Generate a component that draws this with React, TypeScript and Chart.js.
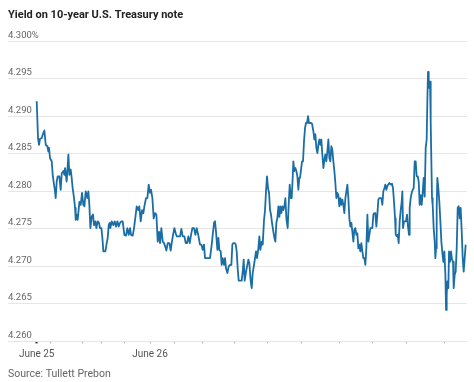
import React, { useEffect, useRef } from 'react';
import { Chart, registerables } from 'chart.js';
Chart.register(...registerables);

const title = 'Yield on 10-year U.S. Treasury note';
const source = 'Source: Tullett Prebon';

// hours since start of June 25
const hours = [
  0.00, 0.28, 0.49, 0.71, 1.06, 1.41, 1.62, 1.91, 2.26, 2.47, 2.61, 2.82, 3.18, 3.39, 3.67, 3.88, 4.02, 4.24, 4.45, 4.80,
  5.08, 5.30, 5.65, 5.86, 6.00, 6.35, 6.71, 6.92, 7.20, 7.41, 7.62, 7.91, 8.12, 8.26, 8.47, 8.68, 9.04, 9.32, 9.60, 9.88,
  10.10, 10.38, 10.73, 10.94, 11.15, 11.37, 11.65, 11.93, 12.14, 12.43, 12.64, 12.92, 13.20, 13.41, 13.70, 13.91, 14.12, 14.54, 14.83, 15.04,
  15.25, 15.46, 15.60, 15.89, 16.24, 16.52, 16.80, 17.09, 17.37, 17.65, 17.93, 18.21,
  18.57, 18.92, 19.20, 19.49, 19.77, 19.98, 20.33, 20.62, 20.83, 21.18, 21.53, 21.74, 22.03, 22.31, 22.59, 22.80, 23.16, 23.44,
  23.72, 24.00, 24.22, 24.50, 24.78, 25.06, 25.35, 25.63, 25.91, 26.12, 26.40, 26.69, 26.97, 27.25, 27.46, 27.75, 28.10, 28.38,
  28.59, 28.88, 29.16, 29.44, 29.65, 30.01, 30.36, 30.64, 30.92, 31.28, 31.56, 31.84, 32.12, 32.41, 32.69, 32.97, 33.32, 33.61,
  33.89, 34.24, 34.59, 34.88, 35.16, 35.44, 35.65, 36.01, 36.43, 36.71,
  37.07, 37.28, 37.56, 37.77, 37.98, 38.27, 38.48, 38.69, 38.97, 39.18, 39.39, 39.68, 39.89, 40.10, 40.38, 40.67, 40.95, 41.23,
  41.44, 41.65, 41.94, 42.15, 42.36, 42.57, 42.78, 43.07, 43.42, 43.63, 43.84, 44.05, 44.34, 44.62, 44.83, 45.04, 45.33, 45.54,
  45.75, 46.03, 46.24, 46.45, 46.67, 46.95, 47.16, 47.37, 47.66, 47.87, 48.15, 48.36, 48.57, 48.78, 49.00, 49.21, 49.42, 49.63,
  49.84, 50.13, 50.34, 50.55, 50.76, 50.97, 51.19, 51.40, 51.61, 51.82, 52.03, 52.24, 52.46, 52.67, 52.88, 53.16, 53.37, 53.59,
  53.80, 54.01, 54.22, 54.36, 54.57, 54.79, 55.00, 55.21, 55.42, 55.63,
  55.77, 55.99, 56.20, 56.41, 56.62, 56.83, 57.04, 57.26, 57.47, 57.68, 57.89, 58.10, 58.32, 58.60, 58.81, 59.02, 59.23, 59.45,
  59.66, 59.87, 60.08, 60.29, 60.50, 60.72, 60.93, 61.14, 61.35, 61.56, 61.78, 61.99, 62.20, 62.41, 62.62, 62.83, 63.05, 63.26,
  63.47, 63.68, 63.89, 64.10, 64.32, 64.53, 64.74, 64.95, 65.16, 65.38, 65.59, 65.80, 66.01, 66.22, 66.43, 66.65, 66.86, 67.07,
  67.28, 67.49, 67.71, 67.92, 68.13, 68.34, 68.55, 68.76, 68.98, 69.19, 69.40, 69.61, 69.82, 70.04, 70.25, 70.46, 70.67, 70.88,
  71.09, 71.31, 71.52, 71.73, 71.94, 72.15, 72.37, 72.58, 72.79, 73.00, 73.21, 73.42, 73.64, 73.85, 74.06, 74.27, 74.48, 74.69,
  74.84, 75.05, 75.26, 75.47, 75.68, 75.90, 76.04, 76.25, 76.46, 76.67, 76.88, 77.10, 77.31, 77.45, 77.59, 77.80, 78.01, 78.22,
  78.44, 78.65, 78.86, 79.00, 79.21, 79.43, 79.64, 79.85, 80.06, 80.27, 80.48, 80.70, 80.91, 81.12, 81.33, 81.54, 81.75, 81.97,
  82.18, 82.39, 82.60, 82.74, 82.88, 83.03, 83.17, 83.31, 83.45, 83.59, 83.73, 83.87, 84.08, 84.30, 84.44, 84.58, 84.72, 84.86,
  85.07, 85.28, 85.50, 85.71, 85.92, 86.13, 86.34, 86.56, 86.70, 86.84, 86.98, 87.19, 87.33, 87.54, 87.76, 87.97, 88.18, 88.32,
  88.53, 88.74, 88.96, 89.17, 89.38, 89.59, 89.80, 90.02, 90.23, 90.44, 90.65, 90.86,
];

const yields = [
  4.2920, 4.2871, 4.2862, 4.2870, 4.2871, 4.2878, 4.2881, 4.2862, 4.2860, 4.2853, 4.2858, 4.2844, 4.2840, 4.2822, 4.2809, 4.2800, 4.2791, 4.2813, 4.2820, 4.2820,
  4.2802, 4.2824, 4.2827, 4.2822, 4.2831, 4.2813, 4.2849, 4.2822, 4.2829, 4.2818, 4.2804, 4.2791, 4.2778, 4.2762, 4.2769, 4.2762, 4.2786, 4.2782, 4.2798, 4.2782,
  4.2780, 4.2800, 4.2791, 4.2800, 4.2782, 4.2751, 4.2766, 4.2769, 4.2755, 4.2760, 4.2751, 4.2760, 4.2758, 4.2751, 4.2751, 4.2738, 4.2720, 4.2720, 4.2731, 4.2738,
  4.2755, 4.2758, 4.2751, 4.2760, 4.2755, 4.2760, 4.2753, 4.2760, 4.2753, 4.2758, 4.2760, 4.2760,
  4.2742, 4.2741, 4.2751, 4.2742, 4.2751, 4.2742, 4.2741, 4.2751, 4.2762, 4.2780, 4.2775, 4.2780, 4.2760, 4.2775, 4.2771, 4.2780, 4.2791, 4.2791,
  4.2809, 4.2798, 4.2802, 4.2791, 4.2764, 4.2771, 4.2769, 4.2733, 4.2746, 4.2731, 4.2751, 4.2733, 4.2731, 4.2726, 4.2721, 4.2731, 4.2731, 4.2721,
  4.2731, 4.2742, 4.2751, 4.2744, 4.2740, 4.2740, 4.2740, 4.2750, 4.2740, 4.2740, 4.2731, 4.2731, 4.2740, 4.2731, 4.2742, 4.2751, 4.2751, 4.2742,
  4.2751, 4.2741, 4.2729, 4.2729, 4.2722, 4.2729, 4.2711, 4.2711, 4.2711, 4.2711,
  4.2729, 4.2742, 4.2758, 4.2760, 4.2746, 4.2722, 4.2738, 4.2722, 4.2720, 4.2702, 4.2711, 4.2702, 4.2711, 4.2697, 4.2691, 4.2700, 4.2702, 4.2702,
  4.2729, 4.2731, 4.2731, 4.2729, 4.2720, 4.2697, 4.2681, 4.2681, 4.2681, 4.2693, 4.2709, 4.2681, 4.2693, 4.2702, 4.2709, 4.2704, 4.2680, 4.2671,
  4.2691, 4.2702, 4.2711, 4.2720, 4.2711, 4.2724, 4.2740, 4.2722, 4.2733, 4.2729, 4.2762, 4.2775, 4.2800, 4.2820, 4.2804, 4.2798, 4.2775, 4.2769,
  4.2758, 4.2746, 4.2738, 4.2733, 4.2758, 4.2764, 4.2780, 4.2766, 4.2780, 4.2771, 4.2780, 4.2775, 4.2780, 4.2791, 4.2764, 4.2751, 4.2782, 4.2809,
  4.2791, 4.2791, 4.2818, 4.2840, 4.2827, 4.2831, 4.2827, 4.2820, 4.2802, 4.2818,
  4.2818, 4.2829, 4.2840, 4.2840, 4.2867, 4.2884, 4.2891, 4.2891, 4.2900, 4.2891, 4.2891, 4.2891, 4.2890, 4.2880, 4.2869, 4.2876, 4.2858, 4.2851,
  4.2862, 4.2869, 4.2862, 4.2869, 4.2849, 4.2831, 4.2842, 4.2849, 4.2840, 4.2853, 4.2869, 4.2844, 4.2840, 4.2860, 4.2855, 4.2840, 4.2827, 4.2811,
  4.2791, 4.2798, 4.2795, 4.2780, 4.2791, 4.2782, 4.2789, 4.2782, 4.2771, 4.2791, 4.2800, 4.2809, 4.2791, 4.2764, 4.2753, 4.2758, 4.2746, 4.2733,
  4.2749, 4.2751, 4.2742, 4.2744, 4.2724, 4.2729, 4.2720, 4.2731, 4.2720, 4.2711, 4.2711, 4.2702, 4.2724, 4.2769, 4.2733, 4.2742, 4.2751, 4.2751,
  4.2751, 4.2769, 4.2771, 4.2771, 4.2753, 4.2769, 4.2789, 4.2791, 4.2791, 4.2791, 4.2782, 4.2800, 4.2804, 4.2809, 4.2802, 4.2807, 4.2809, 4.2811,
  4.2810, 4.2809, 4.2810, 4.2804, 4.2786, 4.2764, 4.2742, 4.2740, 4.2742, 4.2731, 4.2760, 4.2775, 4.2786, 4.2800, 4.2751, 4.2760, 4.2760, 4.2760,
  4.2769, 4.2753, 4.2742, 4.2778, 4.2791, 4.2798, 4.2802, 4.2804, 4.2840, 4.2840, 4.2820, 4.2820, 4.2813, 4.2782, 4.2795, 4.2782, 4.2798, 4.2818,
  4.2793, 4.2858, 4.2869, 4.2920, 4.2959, 4.2938, 4.2946, 4.2946, 4.2893, 4.2840, 4.2791, 4.2782, 4.2751, 4.2733, 4.2711, 4.2724, 4.2778, 4.2818,
  4.2804, 4.2786, 4.2760, 4.2733, 4.2718, 4.2706, 4.2720, 4.2689, 4.2642, 4.2662, 4.2680, 4.2671, 4.2720, 4.2706, 4.2720, 4.2709, 4.2706, 4.2671,
  4.2689, 4.2693, 4.2724, 4.2778, 4.2780, 4.2764, 4.2778, 4.2746, 4.2711, 4.2693, 4.2711, 4.2729,
];

const yTicks = [4.26, 4.265, 4.27, 4.275, 4.28, 4.285, 4.29, 4.295, 4.3];
const yTickLabels = ['4.260', '4.265', '4.270', '4.275', '4.280', '4.285', '4.290', '4.295', '4.300%'];
const xTickHours = [0, 2.97, 9.74, 13.77, 18.7, 24, 29.29, 35.07, 42.0, 48.84, 56.13, 64.24, 71.16, 78.37, 86.48];
const xTickLabels = ['June 25', '', '', '', '', 'June 26', '', '', '', '', '', '', '', '', ''];

const FONT = "Roboto, sans-serif";

export default function App() {
  const ref = useRef<HTMLCanvasElement>(null);
  useEffect(() => {
    document.body.style.margin = '0';
    const chart = new Chart(ref.current!, {
      type: 'line',
      data: {
        datasets: [{
          data: hours.map((h, i) => ({ x: h, y: yields[i] })),
          borderColor: '#1b6ea5',
          borderWidth: 1.8,
          pointRadius: 0,
          tension: 0,
          fill: false,
          borderJoinStyle: 'round',
        }],
      },
      options: {
        animation: false,
        responsive: false,
        layout: { padding: { left: 8, right: 7, top: 0, bottom: 0 } },
        plugins: {
          legend: { display: false },
          tooltip: { enabled: false },
          title: {
            display: true, text: title, align: 'start', color: '#222',
            font: { family: FONT, size: 11, weight: 'bold' },
            padding: { top: 9, bottom: 19 },
          },
          subtitle: {
            display: true, position: 'bottom', text: source, align: 'start', color: '#666',
            font: { family: FONT, size: 10.5 },
            padding: { top: 3, bottom: 1 },
          },
        },
        scales: {
          x: {
            type: 'linear', min: -6.08, max: 91.14,
            afterBuildTicks: (s: any) => { s.ticks = xTickHours.map((v) => ({ value: v })); },
            ticks: {
              autoSkip: false, maxRotation: 0, padding: 5, color: '#555',
              font: { family: FONT, size: 10 },
              callback: (_v: any, i: number) => xTickLabels[i],
            },
            grid: {
              drawOnChartArea: false, drawTicks: true, tickLength: 2,
              tickColor: (c: any) => (c.index === 0 ? '#222' : '#aaa'),
              tickWidth: (c: any) => (c.index === 0 ? 2 : 1),
            },
            border: { display: false },
          },
          y: {
            min: 4.26, max: 4.3,
            afterBuildTicks: (s: any) => { s.ticks = yTicks.map((v) => ({ value: v })); },
            ticks: {
              mirror: true, padding: 0, labelOffset: -6, color: '#666',
              font: { family: FONT, size: 9.5 },
              callback: (_v: any, i: number) => yTickLabels[i],
            },
            grid: { color: '#e6e6e6', drawTicks: false },
            border: { display: false },
          },
        },
      },
    } as any);
    return () => chart.destroy();
  }, []);
  return (
    <div style={{ width: 474, height: 382 }}>
      <canvas ref={ref} width={474} height={382} style={{ display: 'block' }} />
    </div>
  );
}
